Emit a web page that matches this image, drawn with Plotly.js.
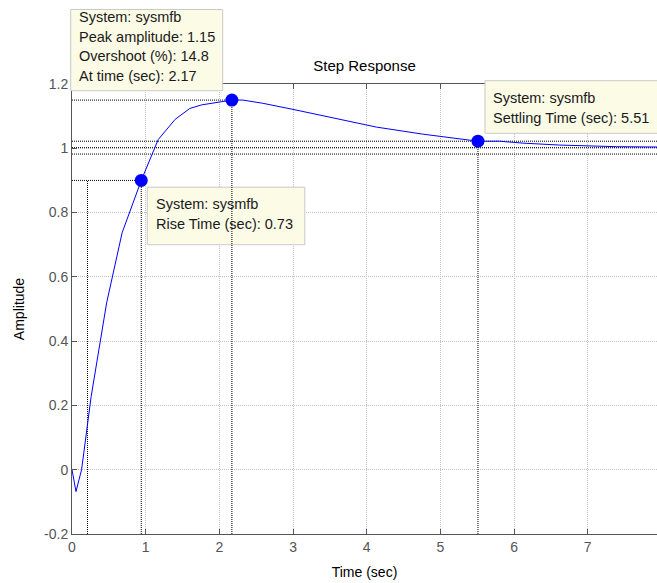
<!DOCTYPE html>
<html><head><meta charset="utf-8">
<script src="https://cdn.plot.ly/plotly-3.0.1.min.js"></script>
<style>html,body{margin:0;padding:0;background:#fff}</style>
</head><body><div id="chart" style="width:657px;height:583px"></div>
<script>
// ---- data ----
const timeSec   = [0, 0.054, 0.13, 0.26, 0.47, 0.68, 0.94, 1.17, 1.40, 1.60, 1.76, 2.01, 2.17, 2.32, 2.59, 3.00, 3.36, 3.54, 4.00, 4.13, 4.76, 5.03, 5.51, 5.80, 6.12, 6.62, 7.39, 7.94];
const amplitude = [0, -0.068, 0, 0.228, 0.519, 0.737, 0.90, 1.027, 1.09, 1.124, 1.135, 1.143, 1.15, 1.15, 1.14, 1.121, 1.103, 1.096, 1.073, 1.066, 1.044, 1.036, 1.022, 1.022, 1.016, 1.010, 1.005, 1.004];

const xTickVals = [0, 1, 2, 3, 4, 5, 6, 7];
const xTickText = ['0', '1', '2', '3', '4', '5', '6', '7'];
const yTickVals = [-0.2, 0, 0.2, 0.4, 0.6, 0.8, 1, 1.2];
const yTickText = ['-0.2', '0', '0.2', '0.4', '0.6', '0.8', '1', '1.2'];

const riseStart = 0.21, riseEnd = 0.94, riseLevel = 0.9, riseTime = 0.73;
const peakTime = 2.17, peakAmp = 1.15, overshootPct = 14.8;
const settleTime = 5.51, settleAmp = 1.022;
const finalValue = 1.002, bandUpper = 1.022, bandLower = 0.982;
const tEnd = 7.94, yMin = -0.2, yMax = 1.2;
const sysName = 'sysmfb';

// ---- drawing ----
const FONT = 'Liberation Sans, Arial, sans-serif';
const charLine = {color: '#000', width: 1, dash: '1px,1px'};
function seg(xs, ys) {
  return {x: xs, y: ys, type: 'scatter', mode: 'lines', line: charLine, hoverinfo: 'skip', showlegend: false};
}
const traces = [
  seg([0, riseEnd], [riseLevel, riseLevel]),
  seg([riseStart, riseStart], [yMin, riseLevel]),
  seg([riseEnd, riseEnd], [yMin, riseLevel]),
  seg([0, peakTime], [peakAmp, peakAmp]),
  seg([peakTime, peakTime], [yMin, peakAmp]),
  seg([0, tEnd], [bandUpper, bandUpper]),
  seg([0, tEnd], [finalValue, finalValue]),
  seg([0, tEnd], [bandLower, bandLower]),
  seg([settleTime, settleTime], [yMin, settleAmp]),
  {x: timeSec, y: amplitude, type: 'scatter', mode: 'lines', line: {color: '#0000ff', width: 1}, showlegend: false},
  {x: [riseEnd, peakTime, settleTime], y: [riseLevel, peakAmp, settleAmp], type: 'scatter', mode: 'markers',
   marker: {color: '#0000ff', size: 13}, showlegend: false, cliponaxis: false}
];

// pixel helpers for plot area: left 72, top 84, width 585, height 450
const L = 72, T = 84, W = 585, H = 450;
const px = v => (v - L) / W;
const py = v => 1 - (v - T) / H;

const tipFill = '#fbfbe6', tipLine = '#c9c9c9';
const shapes = [
  {type: 'rect', xref: 'paper', yref: 'paper', x0: px(70.7), x1: px(222.7), y0: py(90.7), y1: py(9.5),
   fillcolor: tipFill, line: {color: tipLine, width: 1}, layer: 'above'},
  {type: 'rect', xref: 'paper', yref: 'paper', x0: px(485), x1: px(700), y0: py(133.3), y1: py(80.7),
   fillcolor: tipFill, line: {color: tipLine, width: 1}, layer: 'above'},
  {type: 'rect', xref: 'x', yref: 'y', x0: 1.022, x1: 3.16, y0: 0.70, y1: 0.879,
   fillcolor: tipFill, line: {color: tipLine, width: 1}, layer: 'between'}
];

function tip(xPix, yPix, text) {
  return {xref: 'paper', yref: 'paper', x: px(xPix), y: py(yPix), text: text, showarrow: false,
          xanchor: 'left', yanchor: 'middle', font: {family: FONT, size: 14.5, color: '#1a1a1a'}};
}
const annotations = [
  tip(76.5, 16.7, 'System: ' + sysName),
  tip(76.5, 36.7, 'Peak amplitude: ' + peakAmp.toFixed(2)),
  tip(76.5, 56.0, 'Overshoot (%): ' + overshootPct.toFixed(1)),
  tip(76.5, 76.0, 'At time (sec): ' + peakTime.toFixed(2)),
  tip(153.5, 204, 'System: ' + sysName),
  tip(153.5, 224, 'Rise Time (sec): ' + riseTime.toFixed(2)),
  tip(491, 98.3, 'System: ' + sysName),
  tip(491, 118.3, 'Settling Time (sec): ' + settleTime.toFixed(2))
];

const axisCommon = {
  showline: true, linecolor: '#555', linewidth: 1,
  ticks: 'inside', ticklen: 5, tickcolor: '#555',
  showgrid: true, gridcolor: '#c2c2c2', griddash: '1px,1px', gridwidth: 1,
  zeroline: false, tickfont: {family: FONT, size: 14, color: '#555'}, automargin: true
};

const layout = {
  width: 657, height: 583,
  margin: {l: L, r: 0, t: T, b: 583 - T - H},
  paper_bgcolor: '#fff', plot_bgcolor: '#fff',
  font: {family: FONT},
  title: {text: 'Step Response', font: {family: FONT, size: 15, color: '#000'},
          x: 0.5, xref: 'paper', y: 1 - 66 / 583, yref: 'container', yanchor: 'middle'},
  xaxis: Object.assign({}, axisCommon, {range: [0, tEnd], tickvals: xTickVals, ticktext: xTickText,
          mirror: 'ticks', title: {text: 'Time (sec)', standoff: 13, font: {family: FONT, size: 14, color: '#000'}}}),
  yaxis: Object.assign({}, axisCommon, {range: [yMin, yMax], tickvals: yTickVals, ticktext: yTickText,
          title: {text: 'Amplitude', standoff: 16, font: {family: FONT, size: 14, color: '#000'}}}),
  shapes: shapes,
  annotations: annotations,
  showlegend: false
};

Plotly.newPlot('chart', traces, layout, {displayModeBar: false, staticPlot: true});
</script></body></html>
